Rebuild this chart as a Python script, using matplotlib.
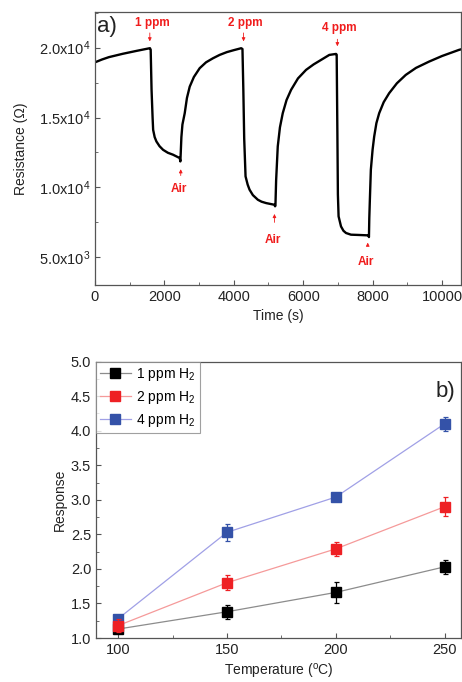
import matplotlib
matplotlib.use("Agg")
import matplotlib.pyplot as plt
from matplotlib.ticker import MultipleLocator, FixedLocator

plt.rcParams['font.family'] = ['Liberation Sans', 'DejaVu Sans']
plt.rcParams['mathtext.default'] = 'regular'

# ---- panel a) data: resistance transient ----
time_s = [0, 200, 400, 800, 1200, 1560, 1585, 1605, 1630, 1660, 1676, 1720, 1770, 1860, 1963, 2100,
          2250, 2443, 2460, 2470, 2490, 2520, 2586, 2650, 2730, 2850, 3017, 3200, 3400, 3592,
          3800, 4000, 4215, 4250, 4275, 4300, 4339, 4400, 4454, 4550, 4693, 4800, 4933, 5172,
          5190, 5200, 5220, 5267, 5330, 5411, 5520, 5651, 5850, 6083, 6300, 6500, 6753, 6945,
          6965, 6985, 7000, 7020, 7090, 7160, 7234, 7377, 7600, 7882, 7895, 7905, 7920, 7950,
          8000, 8046, 8110, 8190, 8320, 8477, 8700, 8956, 9250, 9626, 10000, 10489, 10550]
resistance = [18950, 19150, 19320, 19560, 19770, 19950, 19960, 19850, 17000, 15000, 14120, 13600,
              13290, 12950, 12690, 12480, 12340, 12100, 11860, 12400, 13600, 14500, 15310, 16400,
              17210, 17900, 18530, 18950, 19240, 19480, 19680, 19820, 19960, 19900, 17000, 13500,
              10790, 10200, 9840, 9450, 9120, 8980, 8880, 8760, 8650, 8700, 10500, 12930, 14300,
              15310, 16250, 16980, 17800, 18410, 18800, 19100, 19480, 19550, 19500, 14000, 9500,
              7930, 7210, 6900, 6740, 6620, 6600, 6570, 6450, 7800, 9000, 11270, 12700, 13640,
              14600, 15310, 16100, 16740, 17450, 18050, 18550, 19000, 19400, 19840, 19880]

gas_labels = ['1 ppm', '2 ppm', '4 ppm']
gas_on_t = [1580, 4282, 6985]
air_t = [2471, 5172, 7860]

# ---- panel b) data: response vs temperature ----
temperature = [100, 150, 200, 250]
resp_1ppm = [1.13, 1.38, 1.66, 2.03]
err_1ppm = [0.04, 0.10, 0.15, 0.10]
resp_2ppm = [1.18, 1.80, 2.29, 2.90]
err_2ppm = [0.10, 0.11, 0.10, 0.14]
resp_4ppm = [1.28, 2.53, 3.04, 4.10]
err_4ppm = [0.04, 0.12, 0.03, 0.10]
series_labels = ['1 ppm H$_2$', '2 ppm H$_2$', '4 ppm H$_2$']

fig = plt.figure(figsize=(4.62, 6.82), dpi=100)
spine_c = '#555555'
tick_c = '#222222'
red = '#f01c1c'

# ---------------- panel a ----------------
ax1 = fig.add_axes([0.2056, 0.5821, 0.7924, 0.3999])
ax1.plot(time_s, resistance, color='black', lw=1.7, solid_joinstyle='round')
ax1.set_xlim(0, 10550)
ax1.set_ylim(3020, 22530)
ax1.xaxis.set_major_locator(MultipleLocator(2000))
ax1.xaxis.set_minor_locator(MultipleLocator(1000))
ax1.yaxis.set_major_locator(FixedLocator([5000, 10000, 15000, 20000]))
ax1.yaxis.set_minor_locator(MultipleLocator(2500))
ax1.set_yticklabels(['5.0x10$^3$', '1.0x10$^4$', '1.5x10$^4$', '2.0x10$^4$'])
ax1.set_xlabel('Time (s)', fontsize=10, color=tick_c, labelpad=4)
ax1.set_ylabel('Resistance (Ω)', fontsize=10, color=tick_c, labelpad=8)
ax1.text(0.005, 0.985, 'a)', transform=ax1.transAxes, fontsize=16, va='top', ha='left', color='#222222')

gas_text_R = [21760, 21760, 21400]
gas_arrow_top = [21250, 21250, 20800]
gas_arrow_bot = [20250, 20250, 19900]
for lab, t, ty, a0, a1 in zip(gas_labels, gas_on_t, gas_text_R, gas_arrow_top, gas_arrow_bot):
    ax1.text(t + 60, ty, lab, color=red, fontsize=8.5, fontweight='bold', ha='center', va='center')
    ax1.annotate('', xy=(t, a1), xytext=(t, a0),
                 arrowprops=dict(arrowstyle='-|>', color=red, lw=0.6, mutation_scale=5))

air_text_R = [9880, 6264, 4670]
air_arrow_bot = [10650, 7300, 5650]
air_arrow_top = [11500, 8300, 6250]
for t, ty, a0, a1 in zip(air_t, air_text_R, air_arrow_bot, air_arrow_top):
    ax1.text(t - 50, ty, 'Air', color=red, fontsize=8.5, fontweight='bold', ha='center', va='center')
    ax1.annotate('', xy=(t, a1), xytext=(t, a0),
                 arrowprops=dict(arrowstyle='-|>', color=red, lw=0.6, mutation_scale=5))

# ---------------- panel b ----------------
ax2 = fig.add_axes([0.2078, 0.0645, 0.7902, 0.4052])
styles = [
    (resp_1ppm, err_1ppm, 'black', '#8c8c8c', 3),
    (resp_2ppm, err_2ppm, '#ee2024', '#f59a9a', 5),
    (resp_4ppm, err_4ppm, '#3452a8', '#a0a0e6', 4),
]
for (vals, errs, mc, lc, z), lab in zip(styles, series_labels):
    ax2.plot(temperature, vals, color=lc, lw=0.9, zorder=z - 2)
    ax2.errorbar(temperature, vals, yerr=errs, fmt='none', ecolor=mc, elinewidth=0.9,
                 capsize=1.8, capthick=0.9, zorder=z)
    ax2.plot(temperature, vals, linestyle='none', marker='s', ms=7.3, mfc=mc, mec=mc, zorder=z)
    ax2.plot([], [], color=lc, lw=0.9, marker='s', ms=7.3, mfc=mc, mec=mc, label=lab)

ax2.set_xlim(89.8, 257.6)
ax2.set_ylim(1.0, 5.0)
ax2.xaxis.set_major_locator(MultipleLocator(50))
ax2.xaxis.set_minor_locator(MultipleLocator(25))
ax2.yaxis.set_major_locator(MultipleLocator(0.5))
ax2.yaxis.set_minor_locator(MultipleLocator(0.25))
ax2.yaxis.set_major_formatter(matplotlib.ticker.FormatStrFormatter('%.1f'))
ax2.set_xlabel('Temperature ($^{o}$C)', fontsize=10, color=tick_c, labelpad=4)
ax2.set_ylabel('Response', fontsize=10, color=tick_c, labelpad=3)
ax2.text(0.985, 0.93, 'b)', transform=ax2.transAxes, fontsize=16, va='top', ha='right', color='#222222')
leg = ax2.legend(loc='upper left', bbox_to_anchor=(0.0, 1.0), fontsize=10, frameon=True,
                 fancybox=False, handlelength=2.2, handletextpad=0.4, borderpad=0.3,
                 labelspacing=0.45, borderaxespad=0.0)
leg.get_frame().set_edgecolor('#888888')
leg.get_frame().set_linewidth(0.8)

for ax in (ax1, ax2):
    for s in ax.spines.values():
        s.set_color(spine_c)
        s.set_linewidth(0.9)
    ax.tick_params(which='both', direction='in', colors=spine_c, labelcolor=tick_c, labelsize=10.5)
    ax.tick_params(which='major', length=3.5, width=0.8)
    ax.tick_params(which='minor', length=2, width=0.6)

fig.savefig('out.png', dpi=100)
